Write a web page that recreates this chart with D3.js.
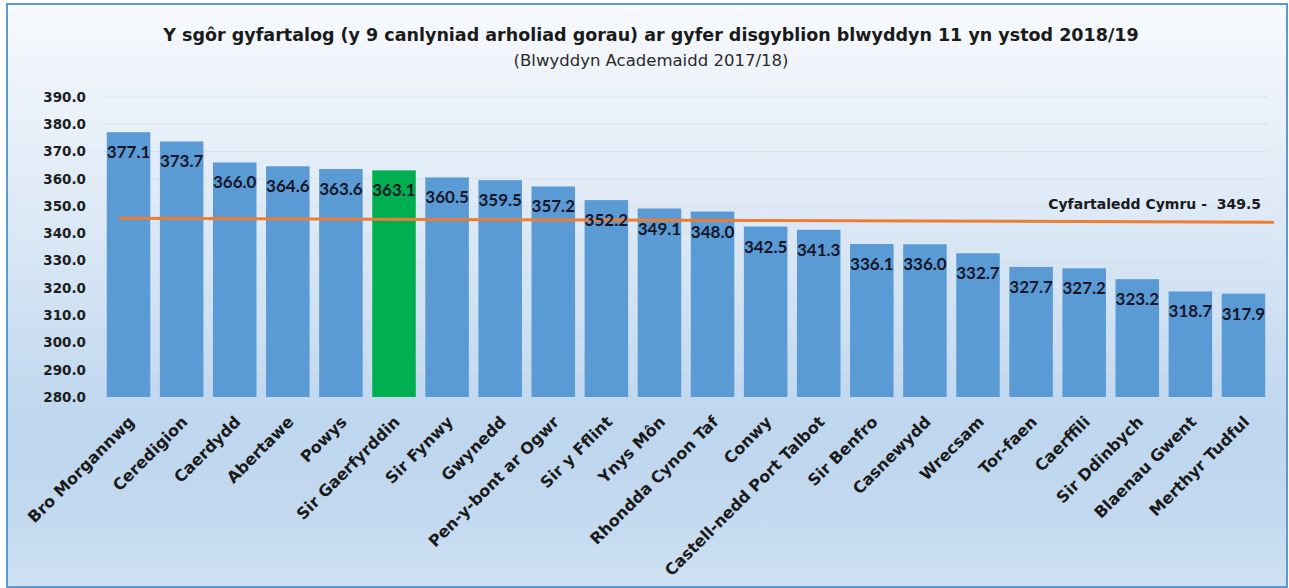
<!DOCTYPE html>
<html>
<head>
<meta charset="utf-8">
<script src="https://cdn.jsdelivr.net/npm/d3@7"></script>
<style>
  html, body { margin: 0; padding: 0; background: #ffffff; }
  svg { display: block; }
  text { white-space: pre; }
</style>
</head>
<body>
<script>
// ---- data ----
const categories = ["Bro Morgannwg", "Ceredigion", "Caerdydd", "Abertawe", "Powys", "Sir Gaerfyrddin",
  "Sir Fynwy", "Gwynedd", "Pen-y-bont ar Ogwr", "Sir y Fflint", "Ynys Môn", "Rhondda Cynon Taf",
  "Conwy", "Castell-nedd Port Talbot", "Sir Benfro", "Casnewydd", "Wrecsam", "Tor-faen",
  "Caerffili", "Sir Ddinbych", "Blaenau Gwent", "Merthyr Tudful"];
const values = [377.1, 373.7, 366.0, 364.6, 363.6, 363.1, 360.5, 359.5, 357.2, 352.2, 349.1, 348.0,
  342.5, 341.3, 336.1, 336.0, 332.7, 327.7, 327.2, 323.2, 318.7, 317.9];
const highlighted = ["Sir Gaerfyrddin"];
const yTicks = [280, 290, 300, 310, 320, 330, 340, 350, 360, 370, 380, 390];
const walesAverage = 349.5;
const averageLineEnds = [345.5, 344.1]; // the orange line as drawn (left end, right end)
const title = "Y sgôr gyfartalog (y 9 canlyniad arholiad gorau) ar gyfer disgyblion blwyddyn 11 yn ystod 2018/19";
const subtitle = "(Blwyddyn Academaidd 2017/18)";
const averageLabel = "Cyfartaledd Cymru -  ";

// ---- layout ----
const W = 1289, H = 588;
const DJ = "'DejaVu Sans', sans-serif";
const LATO = "Lato, sans-serif";
const svg = d3.select("body").append("svg").attr("width", W).attr("height", H);

const defs = svg.append("defs");
const grad = defs.append("linearGradient").attr("id", "bg").attr("x1", 0).attr("y1", 0).attr("x2", 0).attr("y2", 1);
[[0, "#f8fafd"], [0.12, "#eff4fa"], [0.45, "#d6e5f4"], [0.72, "#bed6ee"], [0.88, "#c2d9ef"], [1, "#d0e2f3"]]
  .forEach(([o, c]) => grad.append("stop").attr("offset", o).attr("stop-color", c));

svg.append("rect").attr("x", 0).attr("y", 0).attr("width", W).attr("height", H).attr("fill", "#ffffff");
svg.append("rect").attr("x", 7).attr("y", 4).attr("width", 1280).attr("height", 583)
  .attr("fill", "url(#bg)").attr("stroke", "#5b9bd5").attr("stroke-width", 2);

const x = d3.scaleBand().domain(categories).range([102, 1270]).paddingInner(0.18).paddingOuter(0.09);
const y = d3.scaleLinear().domain([280, 390]).range([397, 97]);

// gridlines
svg.append("g").selectAll("line").data(yTicks.slice(1)).join("line")
  .attr("x1", 104).attr("x2", 1268)
  .attr("y1", d => y(d)).attr("y2", d => y(d))
  .attr("stroke", "#d8e0ea").attr("stroke-width", 1);

// y axis
const yAxis = d3.axisLeft(y).tickValues(yTicks).tickFormat(d3.format(".1f")).tickSize(0).tickPadding(0);
const yg = svg.append("g").attr("transform", "translate(86,0)").call(yAxis);
yg.select(".domain").remove();
yg.selectAll("text").style("font-family", DJ).style("font-size", "13.5px").style("font-weight", 700)
  .attr("fill", "#1e1e1e");

// bars
const data = categories.map((c, i) => ({ c, v: values[i] }));
svg.append("g").selectAll("rect").data(data).join("rect")
  .attr("x", d => x(d.c)).attr("width", x.bandwidth())
  .attr("y", d => y(d.v)).attr("height", d => y(280) - y(d.v))
  .attr("fill", d => highlighted.includes(d.c) ? "#00b050" : "#5b9bd5");

// average line
const xr = x.range();
svg.append("line")
  .attr("x1", xr[0] + 17).attr("x2", xr[1] + 4)
  .attr("y1", y(averageLineEnds[0])).attr("y2", y(averageLineEnds[1]))
  .attr("stroke", "#ed7d31").attr("stroke-width", 3);

// value labels
svg.append("g").selectAll("text").data(data).join("text")
  .attr("x", d => x(d.c) + x.bandwidth() / 2)
  .attr("y", d => y(d.v) + 26)
  .attr("text-anchor", "middle")
  .style("font-family", LATO).style("font-size", "17px").style("font-weight", 700)
  .attr("fill", "#161628")
  .text(d => d.v.toFixed(1));

// category labels
const xAxis = d3.axisBottom(x).tickSize(0).tickPadding(0);
const xg = svg.append("g").attr("transform", "translate(0,397)").call(xAxis);
xg.select(".domain").remove();
xg.selectAll(".tick text")
  .style("font-family", DJ).style("font-size", "16px").style("font-weight", 700)
  .attr("fill", "#1a1a1a")
  .attr("text-anchor", "end")
  .attr("dy", "0.7em")
  .attr("transform", "translate(-1,18) rotate(-45)");

// average label
svg.append("text").attr("x", 1261).attr("y", 209).attr("text-anchor", "end")
  .style("font-family", DJ).style("font-size", "14px").style("font-weight", 700)
  .attr("fill", "#1a1a1a")
  .text(averageLabel + walesAverage.toFixed(1));

// titles
svg.append("text").attr("x", 651).attr("y", 41).attr("text-anchor", "middle")
  .style("font-family", DJ).style("font-size", "17.5px").style("font-weight", 700)
  .attr("fill", "#1a1a1a").text(title);
svg.append("text").attr("x", 651).attr("y", 66).attr("text-anchor", "middle")
  .style("font-family", DJ).style("font-size", "16.5px").style("font-weight", 400)
  .attr("fill", "#2a2a2a").text(subtitle);
</script>
</body>
</html>
